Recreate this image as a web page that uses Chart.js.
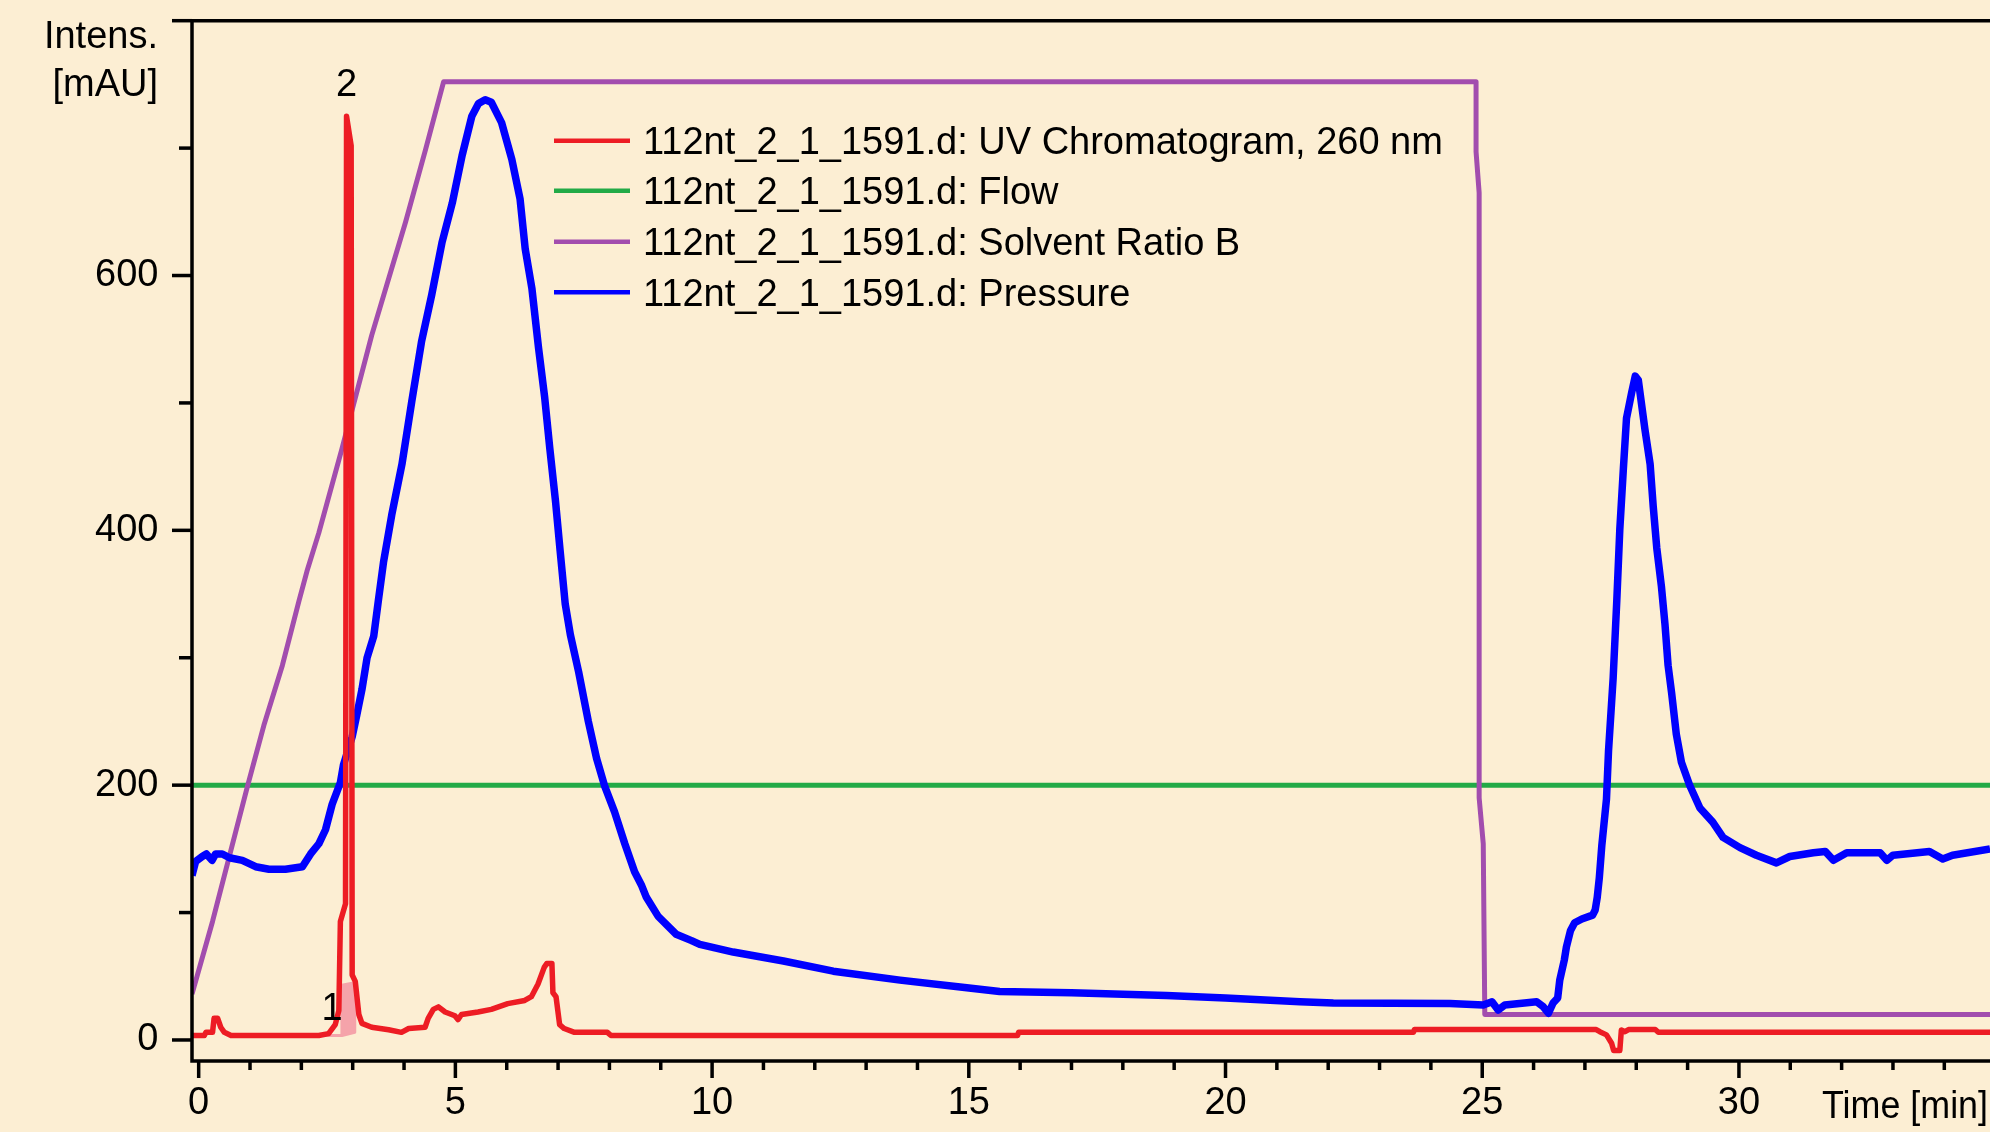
<!DOCTYPE html>
<html>
<head>
<meta charset="utf-8">
<title>112nt_2_1_1591.d</title>
<script src="https://cdn.jsdelivr.net/npm/chart.js@4.4.0/dist/chart.umd.min.js"></script>
<style>
  html, body { margin: 0; padding: 0; background: #FCEED3; }
  #chart__box { width: 1990px; height: 1132px; }
</style>
</head>
<body>
<div id="chart__box"><canvas id="myChart" width="1990" height="1132"></canvas></div>
<script>
// ============================ data

const uvTime = [-0.13, 0.11, 0.14, 0.27, 0.30, 0.37, 0.43, 0.50, 0.63, 2.34,
  2.53, 2.66, 2.73, 2.76, 2.86, 2.88, 2.97, 2.99, 3.05, 3.12,
  3.18, 3.37, 3.70, 3.95, 4.09, 4.41, 4.47, 4.57, 4.67, 4.80,
  4.99, 5.05, 5.12, 5.44, 5.70, 6.02, 6.35, 6.48, 6.61, 6.73,
  6.78, 6.88, 6.90, 6.96, 7.03, 7.12, 7.32, 7.96, 8.03, 15.95,
  15.97, 23.66, 23.68, 27.22, 27.29, 27.42, 27.52, 27.56, 27.68, 27.71,
  27.78, 27.85, 28.37, 28.43, 34.89];
const uvIntens = [3.5, 3.5, 6, 6, 17, 17, 10, 6, 3.5, 3.5,
  5, 12, 23, 93, 107, 725, 702, 51, 46, 20,
  13, 10, 8, 6, 9, 10, 17, 24, 26, 22,
  19, 16, 20, 22, 24, 28.5, 31, 34, 44, 57,
  60, 60, 37, 34, 12, 9, 6, 6, 3.5, 3.5,
  6, 6, 8.2, 8.2, 6.5, 4, -2.6, -8.3, -8.3, 7.8,
  6.5, 8.2, 8.2, 6, 6];

const flowTime = [-0.13, 34.89];
const flowValue = [200, 200];

const solvTime = [-0.13, 0.27, 0.66, 0.95, 1.27, 1.63, 1.95, 2.11, 2.34, 2.79,
  3.37, 4.03, 4.42, 4.77, 24.88, 24.88, 24.94, 24.94, 25.02, 25.05, 34.89];
const solvRatio = [36, 93, 154, 199, 247, 294, 344, 368, 398, 464,
  553, 642, 699, 752, 752, 697, 665, 190, 154, 20, 20];

const presTime = [-0.13, -0.06, 0.07, 0.15, 0.26, 0.33, 0.46, 0.60, 0.85, 1.11,
  1.37, 1.69, 2.02, 2.18, 2.34, 2.47, 2.60, 2.76, 2.82, 2.99,
  3.08, 3.18, 3.28, 3.41, 3.50, 3.60, 3.76, 3.96, 4.15, 4.34,
  4.54, 4.74, 4.94, 5.13, 5.32, 5.45, 5.58, 5.70, 5.90, 6.10,
  6.26, 6.36, 6.49, 6.62, 6.74, 6.84, 6.95, 7.04, 7.14, 7.24,
  7.40, 7.59, 7.75, 7.91, 8.10, 8.30, 8.49, 8.63, 8.72, 8.95,
  9.30, 9.60, 9.76, 10.41, 11.39, 12.36, 13.66, 14.96, 15.60, 17.00,
  18.85, 20.00, 21.45, 22.10, 24.37, 25.02, 25.19, 25.31, 25.44, 26.06,
  26.19, 26.29, 26.38, 26.47, 26.51, 26.60, 26.64, 26.72, 26.80, 26.94,
  27.15, 27.20, 27.24, 27.28, 27.33, 27.42, 27.46, 27.55, 27.62, 27.68,
  27.75, 27.81, 27.91, 27.98, 28.04, 28.10, 28.17, 28.27, 28.33, 28.40,
  28.49, 28.56, 28.62, 28.69, 28.78, 28.88, 29.04, 29.24, 29.49, 29.69,
  30.02, 30.34, 30.73, 30.99, 31.45, 31.68, 31.84, 32.10, 32.75, 32.88,
  33.00, 33.71, 33.97, 34.16, 34.89];
const presValue = [129, 140, 144, 146, 141, 146, 146, 143, 141, 136,
  134, 134, 136, 146, 154, 165, 185, 202, 216, 238,
  255, 275, 300, 317, 345, 375, 412, 452, 501, 548,
  585, 626, 657, 694, 725, 735, 738, 736, 720, 691,
  660, 621, 590, 543, 504, 464, 423, 384, 342, 318,
  289, 250, 221, 199, 179, 154, 132, 121, 112, 97,
  83, 78, 75, 69, 62, 54, 47, 41, 38, 37,
  35, 33, 30, 29, 28.7, 27.5, 30, 23.5, 27.5, 30,
  26, 21, 29, 33, 47, 63, 73, 86, 92, 95,
  98, 102, 112, 127, 153, 189, 227, 284, 344, 401,
  449, 488, 508, 521, 518, 500, 479, 452, 419, 386,
  356, 326, 294, 272, 240, 218, 200, 182, 171, 159,
  151, 145, 139, 144, 147, 148, 141, 147, 147, 141,
  145, 148, 142, 145, 150];

// integration mark under peak 2 (light pink)
const areaTime = [2.34, 2.79, 2.79, 3.04, 3.04, 2.79];
const areaValue = [3.5, 3.5, 43, 45, 6, 3.5];

// peak numbers: [label, time, intensity at text baseline]
const peakLabels = [['1', 2.60, 16], ['2', 2.88, 741]];

const legendNames = [
  '112nt_2_1_1591.d: UV Chromatogram, 260 nm',
  '112nt_2_1_1591.d: Flow',
  '112nt_2_1_1591.d: Solvent Ratio B',
  '112nt_2_1_1591.d: Pressure'
];

const xMin = -0.13, xMax = 34.89;
const yMin = -16.5, yMax = 800;

// ============================ styling

const bgColor = '#FCEED3';
const redColor = '#ED1C24';
const greenColor = '#22AA47';
const purpleColor = '#A24DAE';
const blueColor = '#0000FF';
const pinkColor = '#F5A3AA';
const fontFamily = "'Liberation Sans', Arial, sans-serif";

Chart.defaults.font.family = fontFamily;
Chart.defaults.color = '#000';

function toPoints(xs, ys){
  return xs.map(function(x, i){ return {x: x, y: ys[i]}; });
}

// ============================ drawing extras: frame, ticks, legend, texts

const chromPlugin = {
  id: 'chromPlugin',
  beforeDraw(chart){
    const ctx = chart.ctx;
    ctx.save();
    ctx.fillStyle = bgColor;
    ctx.fillRect(0, 0, chart.width, chart.height);
    ctx.restore();
  },
  afterDraw(chart){
    const ctx = chart.ctx;
    const area = chart.chartArea;
    const xs = chart.scales.x;
    const ys = chart.scales.y;

    ctx.save();
    ctx.strokeStyle = '#000';
    ctx.lineWidth = 3.5;
    ctx.beginPath();
    ctx.moveTo(chart.width, area.top);
    ctx.lineTo(area.left, area.top);
    ctx.lineTo(area.left, area.bottom);
    ctx.lineTo(chart.width, area.bottom);
    ctx.stroke();

    // tick marks
    ctx.lineWidth = 3.5;
    xs.ticks.forEach(function(t){
      const px = xs.getPixelForValue(t.value);
      const len = t.value % 5 === 0 ? 17 : 9;
      ctx.beginPath();
      ctx.moveTo(px, area.bottom);
      ctx.lineTo(px, area.bottom + len);
      ctx.stroke();
    });
    ys.ticks.forEach(function(t){
      const py = ys.getPixelForValue(t.value);
      const len = t.value % 200 === 0 ? 20 : 13;
      ctx.beginPath();
      ctx.moveTo(area.left, py);
      ctx.lineTo(area.left - len, py);
      ctx.stroke();
    });

    // legend
    const legColors = [redColor, greenColor, purpleColor, blueColor];
    const legRows = [140.7, 190.7, 241.7, 292.3];
    ctx.font = '38px ' + fontFamily;
    ctx.textAlign = 'left';
    ctx.textBaseline = 'alphabetic';
    legendNames.forEach(function(name, i){
      ctx.strokeStyle = legColors[i];
      ctx.lineWidth = 4.5;
      ctx.beginPath();
      ctx.moveTo(554, legRows[i]);
      ctx.lineTo(630, legRows[i]);
      ctx.stroke();
      ctx.fillStyle = '#000';
      ctx.fillText(name, 643, legRows[i] + 13.6);
    });

    // axis titles
    ctx.textAlign = 'right';
    ctx.fillText('Intens.', 158, 47.5);
    ctx.fillText('[mAU]', 158, 96);
    ctx.fillText('Time [min]', 1988, 1117.5, 166);

    // peak numbers
    ctx.textAlign = 'center';
    peakLabels.forEach(function(p){
      ctx.fillText(p[0], xs.getPixelForValue(p[1]), ys.getPixelForValue(p[2]));
    });
    ctx.restore();
  }
};

// ============================ chart

const config = {
  type: 'line',
  data: {
    datasets: [
      {
        label: 'UV Chromatogram, 260 nm',
        data: toPoints(uvTime, uvIntens),
        borderColor: redColor,
        borderWidth: 5.5,
        order: 0
      },
      {
        label: 'area',
        data: toPoints(areaTime, areaValue),
        borderColor: pinkColor,
        backgroundColor: pinkColor,
        borderWidth: 3,
        fill: 'shape',
        order: 1
      },
      {
        label: 'Pressure',
        data: toPoints(presTime, presValue),
        borderColor: blueColor,
        borderWidth: 7.5,
        order: 2
      },
      {
        label: 'Solvent Ratio B',
        data: toPoints(solvTime, solvRatio),
        borderColor: purpleColor,
        borderWidth: 5,
        order: 3
      },
      {
        label: 'Flow',
        data: toPoints(flowTime, flowValue),
        borderColor: greenColor,
        borderWidth: 5,
        order: 4
      }
    ]
  },
  options: {
    responsive: false,
    devicePixelRatio: 1,
    animation: false,
    layout: { padding: { top: 20.7, right: 0, left: 0, bottom: 0 } },
    elements: {
      point: { radius: 0 },
      line: { tension: 0, fill: false, borderJoinStyle: 'round' }
    },
    plugins: {
      legend: { display: false },
      tooltip: { enabled: false }
    },
    scales: {
      x: {
        type: 'linear',
        min: xMin,
        max: xMax,
        border: { display: false },
        grid: { drawOnChartArea: false, drawTicks: true, tickLength: 17, color: 'rgba(0,0,0,0)' },
        ticks: {
          stepSize: 1,
          includeBounds: false,
          autoSkip: false,
          maxRotation: 0,
          padding: 3,
          font: { size: 38 },
          callback: function(v){ return v % 5 === 0 ? String(v) : ''; }
        },
        afterFit: function(scale){
          scale.height = 71;
          scale.paddingLeft = 0;
          scale.paddingRight = 0;
        }
      },
      y: {
        type: 'linear',
        min: yMin,
        max: yMax,
        border: { display: false },
        grid: { drawOnChartArea: false, drawTicks: true, tickLength: 20, color: 'rgba(0,0,0,0)' },
        ticks: {
          stepSize: 100,
          includeBounds: false,
          autoSkip: false,
          padding: 13.5,
          font: { size: 38 },
          callback: function(v){ return (v % 200 === 0 && v < 800) ? String(v) : ''; }
        },
        afterFit: function(scale){
          scale.width = 192;
          scale.paddingTop = 0;
          scale.paddingBottom = 0;
        }
      }
    }
  },
  plugins: [chromPlugin]
};

const myChart = new Chart(document.getElementById('myChart'), config);
</script>
</body>
</html>
